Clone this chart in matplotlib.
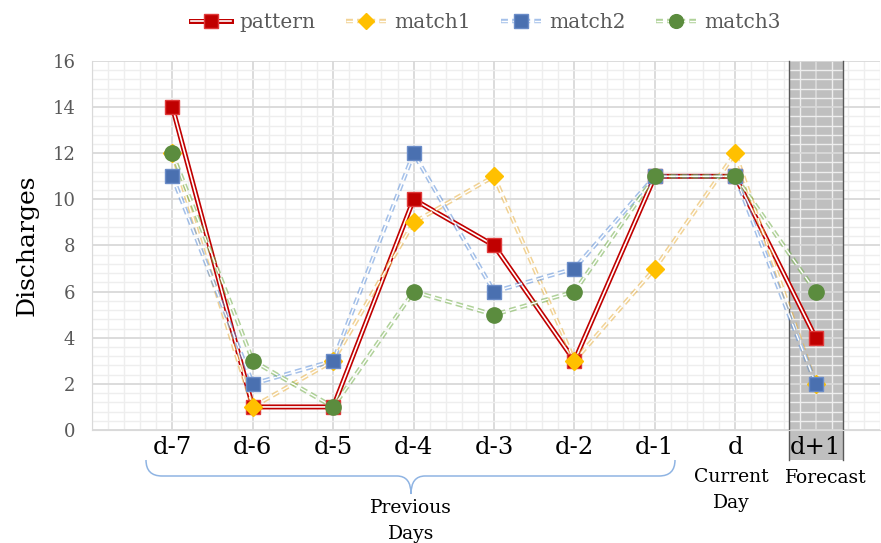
import numpy as np
import matplotlib
matplotlib.use('Agg')
from matplotlib import pyplot as plt
from matplotlib import patheffects as pe
from matplotlib.path import Path
from matplotlib.patches import PathPatch, Rectangle
from matplotlib.legend_handler import HandlerTuple

# data
days = ['d-7', 'd-6', 'd-5', 'd-4', 'd-3', 'd-2', 'd-1', 'd', 'd+1']
pattern = [14, 1, 1, 10, 8, 3, 11, 11, 4]
match1 = [12, 1, 3, 9, 11, 3, 7, 12, 2]
match2 = [11, 2, 3, 12, 6, 7, 11, 11, 2]
match3 = [12, 3, 1, 6, 5, 6, 11, 11, 6]

plt.rcParams['font.family'] = ['DejaVu Serif']
W, H = 881, 543
fig = plt.figure(figsize=(W/100, H/100), dpi=100)
ax = fig.add_axes([92/W, 1-430/H, 788/W, 369/H])
x = np.arange(len(days))

# grey forecast band (goes down behind the d+1 label)
band = Rectangle((7.67, -0.08), 0.67, 1.08, transform=ax.get_xaxis_transform(),
                 facecolor='#bfbfbf', edgecolor='none', zorder=0.1, clip_on=False)
ax.add_patch(band)
for xe in (7.67, 8.34):
    ax.plot([xe, xe], [-0.08, 1], transform=ax.get_xaxis_transform(), color='#595959',
            lw=1, zorder=0.6, clip_on=False)

series = [
    ('pattern', pattern, '#c00000', 's', 10.5, '#e03a3a', '-', 3.6, 1.0),
    ('match1', match1, '#ffc000', 'D', 9, '#ffc000', '--', 3.2, 0.55),
    ('match2', match2, '#4a70b0', 's', 10.5, '#6a8cc8', '--', 3.2, 0.55),
    ('match3', match3, '#5b8c3e', 'o', 11, '#5b8c3e', '--', 3.2, 0.55),
]
linecols = {'pattern': '#c00000', 'match1': '#e8b040', 'match2': '#5b8fd9', 'match3': '#70ad47'}

handles = []
for name, vals, col, mk, ms, mec, ls, lw, a in series:
    if ls == '--':
        ln, = ax.plot(x, vals, color='white', lw=1.0, ls='--', dashes=(5, 3), zorder=2,
                      path_effects=[pe.Stroke(linewidth=lw, foreground=linecols[name], alpha=a), pe.Normal()])
    else:
        ln, = ax.plot(x, vals, color='white', lw=1.2, ls='-', zorder=2,
                      path_effects=[pe.Stroke(linewidth=lw, foreground=linecols[name], alpha=a), pe.Normal()])
    mkr, = ax.plot(x, vals, ls='none', marker=mk, ms=ms, mfc=col, mec=mec, mew=1, zorder=3)
    handles.append((ln, mkr))

ax.set_xlim(-1, 8.8)
ax.set_ylim(0, 16)
ax.set_yticks(range(0, 17, 2))
ax.set_yticks(np.arange(0, 16.01, 0.4), minor=True)
ax.set_xticks(x)
ax.set_xticks(np.arange(-1, 8.81, 0.2), minor=True)
ax.set_xticklabels(days, fontsize=17.5, color='black')
ax.tick_params(axis='y', labelsize=13, labelcolor='#595959', length=0, pad=12, which='both')
ax.tick_params(axis='x', length=0, pad=4, which='both')
ax.grid(which='major', color='#d9d9d9', lw=1.3, zorder=0.5)
ax.grid(which='minor', color='#eeeeee', lw=1, zorder=0.4)
ax.set_axisbelow(True)
for s in ['top', 'right']:
    ax.spines[s].set_visible(False)
for s in ['left', 'bottom']:
    ax.spines[s].set_color('#d9d9d9')
ax.set_ylabel('Discharges', fontsize=18, labelpad=10)

leg = ax.legend(handles, [s[0] for s in series], handler_map={tuple: HandlerTuple(ndivide=1)},
                loc='center', bbox_to_anchor=(0.5, 1.105), ncol=4, frameon=False, fontsize=14.5,
                handlelength=2.0, columnspacing=1.5, handletextpad=0.4, markerscale=0.9)
for t in leg.get_texts():
    t.set_color('#595959')

# labels under the axis
fig.text(731/W, 1-490/H, 'Current\nDay', ha='center', va='center', fontsize=13.5, linespacing=1.5)
fig.text(826/W, 1-478/H, 'Forecast', ha='center', va='center', fontsize=13.5)
fig.text(411/W, 1-521/H, 'Previous\nDays', ha='center', va='center', fontsize=13.5, linespacing=1.55)

# curly brace below d-7 .. d-1
def fp(px, py):
    return (px/W, 1-py/H)
x0, x1, xm, yt, yb, ytip = 146, 675, 411, 460, 476, 494
verts = [fp(x0, yt), fp(x0, yb), fp(x0+16, yb), fp(xm-14, yb), fp(xm, yb), fp(xm, ytip),
         fp(xm, yb), fp(xm+14, yb), fp(x1-16, yb), fp(x1, yb), fp(x1, yt)]
codes = [Path.MOVETO, Path.CURVE3, Path.CURVE3, Path.LINETO, Path.CURVE3, Path.CURVE3,
         Path.CURVE3, Path.CURVE3, Path.LINETO, Path.CURVE3, Path.CURVE3]
fig.add_artist(PathPatch(Path(verts, codes), transform=fig.transFigure, fill=False,
                         edgecolor='#8fb4e3', lw=1.1))

plt.savefig('out.png', dpi=100)
